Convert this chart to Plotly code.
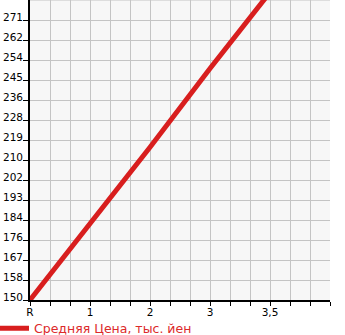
import plotly.graph_objects as go

x_labels = ["R", "1", "2", "3", "3,5"]
x_pos = [0, 3, 6, 9, 12]
prices = [150, 183, 216, 250, 283]
y_tick_labels = ["150", "158", "167", "176", "184", "193", "202", "210",
                 "219", "228", "236", "245", "254", "262", "271"]

step = (271 - 150) / 14
y_min = 150
y_max = 150 + 15 * step
y_tickvals = [150 + k * step for k in range(len(y_tick_labels))]

x_tickvals = list(range(0, 16))
x_ticktext = [""] * len(x_tickvals)
for p, lab in zip(x_pos, x_labels):
    x_ticktext[p] = lab

RED = "#d81e1e"

fig = go.Figure()
fig.add_trace(go.Scatter(
    x=x_pos, y=prices, mode="lines",
    line=dict(color=RED, width=5),
    name="Средняя Цена, тыс. йен",
))

fig.update_layout(
    width=345, height=335,
    margin=dict(l=30, r=15, t=0, b=35, autoexpand=False),
    paper_bgcolor="white",
    plot_bgcolor="#f7f7f7",
    font=dict(family="DejaVu Sans", size=10.5, color="black"),
    showlegend=True,
    legend=dict(
        orientation="h", x=-0.12, xanchor="left", y=-0.045, yanchor="top",
        font=dict(color="#dc2a2a", size=12.5, family="DejaVu Sans"),
        itemwidth=30, bgcolor="rgba(0,0,0,0)",
        tracegroupgap=0, traceorder="normal",
    ),
    xaxis=dict(
        range=[0, 15], tickmode="array", tickvals=x_tickvals, ticktext=x_ticktext,
        showgrid=True, gridcolor="#c4c4c4", gridwidth=1,
        showline=True, linecolor="black", linewidth=2,
        ticks="outside", ticklen=4, tickcolor="black", tickwidth=1,
        zeroline=False, fixedrange=True, ticklabelstandoff=-3,
    ),
    yaxis=dict(
        range=[y_min, y_max], tickmode="array", tickvals=y_tickvals,
        showticklabels=False,
        showgrid=True, gridcolor="#c4c4c4", gridwidth=1,
        showline=True, linecolor="black", linewidth=2,
        ticks="outside", ticklen=5, tickcolor="black", tickwidth=1,
        zeroline=False, fixedrange=True,
    ),
)
for v, lab in zip(y_tickvals, y_tick_labels):
    fig.add_annotation(x=-29 / 300, xref="paper", y=v, yref="y", text=lab,
                       showarrow=False, xanchor="left", yanchor="middle", yshift=3,
                       font=dict(family="DejaVu Sans", size=10.5, color="black"))
fig.add_shape(type="line", xref="paper", yref="paper", x0=0, x1=1, y0=1, y1=1,
              line=dict(color="#c4c4c4", width=1), layer="below")

fig.write_html("out.html")
